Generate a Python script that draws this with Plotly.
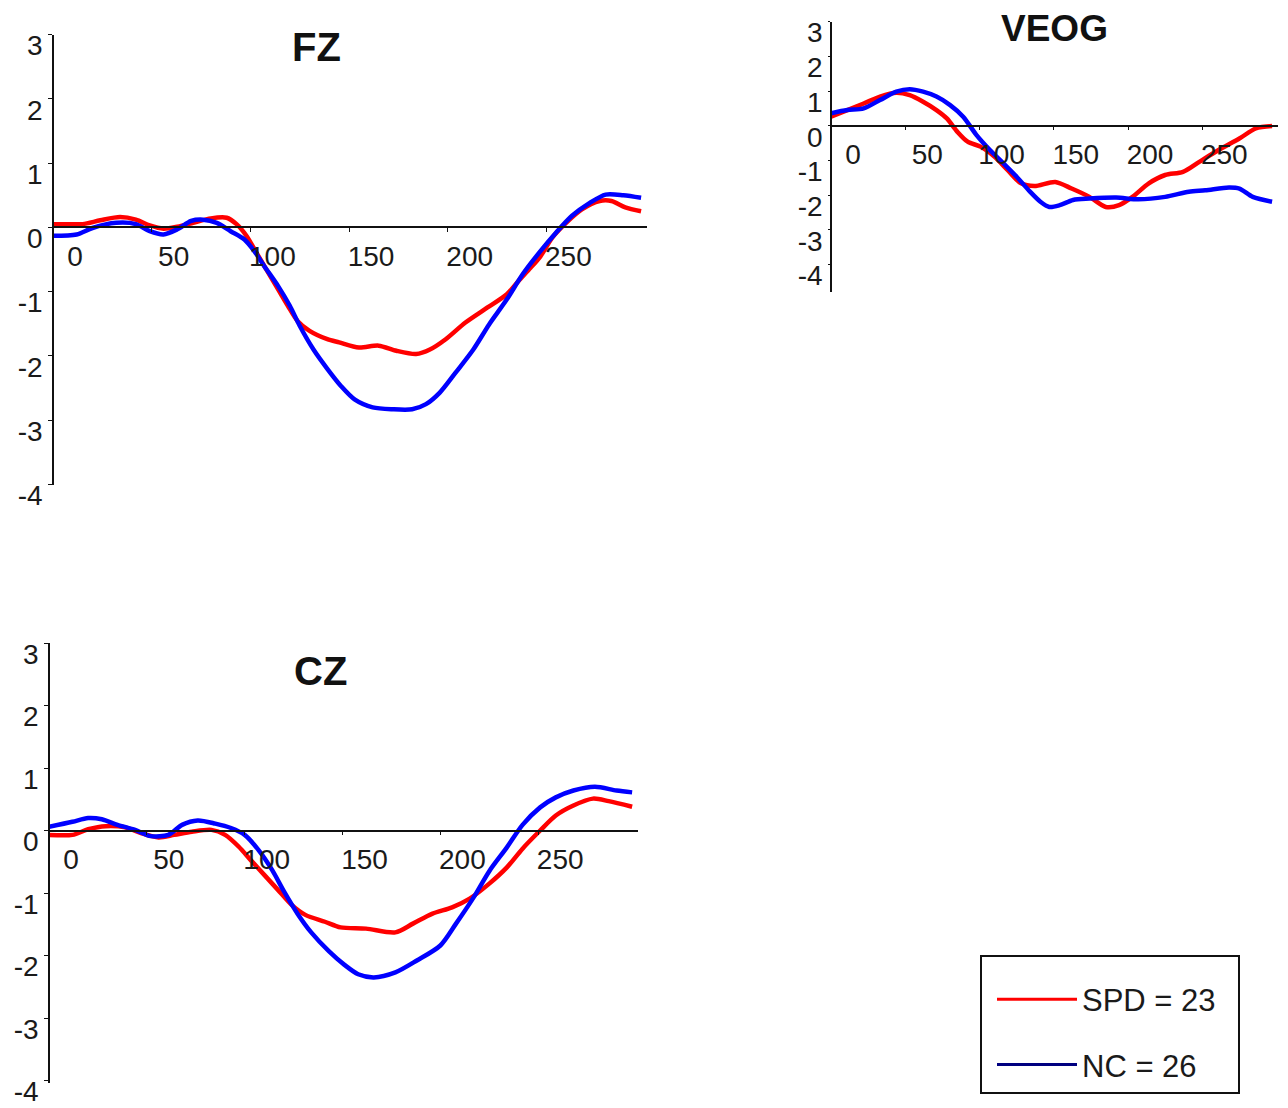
import plotly.graph_objects as go

# The page places the figure 8 px in from the top-left corner (browser body margin),
# so the figure is 8 px smaller and every reference pixel position is shifted by OFF.
OFF = 8
W, H = 1288 - OFF, 1108 - OFF

# ---------------- data (time in ms, amplitude in microvolts) ----------------
fz_spd_t = [0, 5, 15, 24, 34, 42, 49, 56, 63, 71, 80, 88, 93, 98, 103, 108, 114, 119, 124, 130,
            139, 145, 155, 165, 174, 184, 191, 199, 209, 220, 230, 236, 242, 247, 253, 260, 268,
            277, 283, 290, 298]
fz_spd_v = [0.05, 0.05, 0.05, 0.11, 0.16, 0.12, 0.03, -0.02, 0.01, 0.07, 0.14, 0.15, 0.05, -0.13,
            -0.39, -0.65, -0.96, -1.22, -1.46, -1.61, -1.74, -1.79, -1.87, -1.84, -1.92, -1.97,
            -1.90, -1.74, -1.48, -1.25, -1.04, -0.83, -0.63, -0.45, -0.16, 0.07, 0.28, 0.41, 0.41,
            0.31, 0.25]
fz_nc_t = [0, 12, 20, 32, 42, 49, 56, 63, 70, 76, 83, 90, 97, 102, 107, 114, 120, 125, 132, 139,
           146, 153, 162, 172, 182, 189, 196, 204, 213, 221, 230, 238, 247, 255, 263, 272, 280,
           289, 298]
fz_nc_v = [-0.13, -0.11, -0.01, 0.07, 0.05, -0.06, -0.11, -0.03, 0.10, 0.12, 0.07, -0.06, -0.19,
           -0.37, -0.60, -0.91, -1.22, -1.53, -1.90, -2.20, -2.47, -2.68, -2.80, -2.83, -2.83,
           -2.75, -2.57, -2.26, -1.90, -1.51, -1.12, -0.73, -0.37, -0.08, 0.18, 0.38, 0.51, 0.50,
           0.46]

veog_spd_t = [0, 11, 22, 33, 44, 53, 62, 71, 78, 85, 92, 101, 110, 119, 128, 137, 151, 162, 174,
              185, 194, 203, 214, 225, 237, 248, 261, 275, 286, 297]
veog_spd_v = [0.26, 0.45, 0.64, 0.84, 0.95, 0.88, 0.69, 0.45, 0.21, -0.17, -0.46, -0.61, -0.89,
              -1.28, -1.66, -1.74, -1.62, -1.81, -2.05, -2.34, -2.29, -2.05, -1.66, -1.42, -1.33,
              -1.04, -0.70, -0.37, -0.08, -0.01]
veog_nc_t = [0, 11, 22, 33, 44, 53, 62, 71, 80, 89, 98, 107, 116, 125, 134, 141, 147, 154, 163,
             174, 192, 207, 225, 241, 252, 268, 275, 284, 297]
veog_nc_v = [0.36, 0.45, 0.50, 0.74, 0.98, 1.05, 0.98, 0.84, 0.60, 0.26, -0.27, -0.70, -1.08,
             -1.47, -1.90, -2.19, -2.34, -2.29, -2.14, -2.10, -2.07, -2.12, -2.05, -1.90, -1.86,
             -1.78, -1.81, -2.05, -2.19]

cz_spd_t = [0, 12, 20, 29, 39, 47, 56, 64, 73, 83, 90, 97, 103, 110, 117, 124, 131, 141, 149,
            162, 177, 186, 196, 206, 215, 225, 234, 242, 251, 259, 268, 278, 286, 298]
cz_spd_v = [-0.07, -0.07, 0.02, 0.07, 0.05, -0.04, -0.11, -0.07, -0.02, 0.01, -0.07, -0.26,
            -0.47, -0.71, -0.95, -1.19, -1.35, -1.46, -1.55, -1.57, -1.63, -1.49, -1.33, -1.23,
            -1.09, -0.85, -0.59, -0.29, 0.0, 0.24, 0.40, 0.51, 0.47, 0.38]
cz_nc_t = [0, 12, 20, 27, 35, 44, 52, 61, 68, 76, 85, 93, 100, 107, 114, 120, 127, 134, 143, 151,
           158, 166, 177, 188, 200, 208, 217, 225, 234, 242, 251, 259, 268, 279, 290, 298]
cz_nc_v = [0.06, 0.14, 0.20, 0.18, 0.09, 0.01, -0.09, -0.07, 0.09, 0.16, 0.11, 0.04, -0.07,
           -0.31, -0.63, -0.97, -1.33, -1.63, -1.93, -2.15, -2.30, -2.35, -2.27, -2.08, -1.84,
           -1.49, -1.07, -0.65, -0.27, 0.09, 0.37, 0.53, 0.64, 0.70, 0.64, 0.61]

x_tickvals = [0, 50, 100, 150, 200, 250]
x_ticktext = ["0", "50", "100", "150", "200", "250"]
y_tickvals = [3, 2, 1, 0, -1, -2, -3, -4]
y_ticktext = ["3", "2", "1", "0", "-1", "-2", "-3", "-4"]

panel_titles = ["FZ", "VEOG", "CZ"]
group_names = ["SPD = 23", "NC = 26"]

RED = "#ff0000"
BLUE = "#0000ff"
NAVY = "#000080"
FONT = "Liberation Sans, Arial, sans-serif"
NB = "\u00a0"


def fx(px):
    return (px - OFF) / W


def fy(py):
    return 1 - (py - OFF) / H


# panel geometry in reference pixels
panels = [
    dict(px0=53, px1=647, py_top=34.5, py_bot=484.5, yr=[-4, 3], ytl=4),
    dict(px0=831, px1=1278, py_top=21.6, py_bot=292.3, yr=[-4.8, 3], ytl=2),
    dict(px0=49, px1=638, py_top=643, py_bot=1083, yr=[-4.04, 3], ytl=4),
]
series = [
    (fz_spd_t, fz_spd_v, fz_nc_t, fz_nc_v),
    (veog_spd_t, veog_spd_v, veog_nc_t, veog_nc_v),
    (cz_spd_t, cz_spd_v, cz_nc_t, cz_nc_v),
]

fig = go.Figure()
layout = dict(width=W, height=H, margin=dict(l=0, r=0, t=0, b=0, autoexpand=False),
              paper_bgcolor="white", plot_bgcolor="white",
              font=dict(family=FONT, color="#1a1a1a"), showlegend=True)

for i, (p, s) in enumerate(zip(panels, series)):
    k = "" if i == 0 else str(i + 1)
    xd = [fx(p["px0"]), fx(p["px1"])]
    yd = [fy(p["py_bot"]), fy(p["py_top"])]
    ymin, ymax = p["yr"]
    xpos = yd[0] + (0 - ymin) / (ymax - ymin) * (yd[1] - yd[0])
    layout["xaxis" + k] = dict(domain=xd, range=[0, 301], anchor="free", position=xpos,
                               showline=True, linecolor="#111", linewidth=1.5,
                               ticks="outside", ticklen=4, tickcolor="#111",
                               tickvals=x_tickvals, ticktext=x_ticktext,
                               tickfont=dict(size=28, family=FONT, color="#1a1a1a"),
                               ticklabelshift=22, showgrid=False, zeroline=False)
    layout["yaxis" + k] = dict(domain=yd, range=p["yr"], anchor="free", position=xd[0],
                               showline=True, linecolor="#111", linewidth=1.5,
                               ticks="outside", ticklen=p["ytl"], tickcolor="#111",
                               tickvals=y_tickvals, ticktext=y_ticktext,
                               tickfont=dict(size=28, family=FONT, color="#1a1a1a"),
                               ticklabelshift=11, showgrid=False, zeroline=False)
    xr = "x" + k
    yr = "y" + k
    fig.add_trace(go.Scatter(x=s[0], y=s[1], mode="lines", xaxis=xr, yaxis=yr,
                             line=dict(color=RED, width=4.5, shape="spline", smoothing=0.8),
                             showlegend=False, name=group_names[0]))
    fig.add_trace(go.Scatter(x=s[2], y=s[3], mode="lines", xaxis=xr, yaxis=yr,
                             line=dict(color=BLUE, width=4.5, shape="spline", smoothing=0.8),
                             showlegend=False, name=group_names[1]))

# legend entries
fig.add_trace(go.Scatter(x=[None], y=[None], mode="lines", name=group_names[0] + NB * 2,
                         line=dict(color=RED, width=3), legendgroup="a"))
fig.add_trace(go.Scatter(x=[None], y=[None], mode="lines", name=group_names[1] + NB * 2,
                         line=dict(color=NAVY, width=3), legendgroup="b"))

layout["legend"] = dict(x=fx(980), y=fy(955), xanchor="left", yanchor="top",
                        font=dict(size=31, family=FONT, color="#1a1a1a"),
                        bordercolor="#111", borderwidth=2, bgcolor="white",
                        tracegroupgap=22, traceorder="grouped", itemwidth=80,
                        indentation=10,
                        title=dict(text=NB, font=dict(size=12)))

title_pos = [(316.5, 47.5, 40), (1054.5, 28.5, 37), (320, 671, 40)]
ann = []
for t, (cx, cy, fs) in zip(panel_titles, title_pos):
    ann.append(dict(text="<b>" + t + "</b>", x=fx(cx), y=fy(cy), xref="paper", yref="paper",
                    showarrow=False, xanchor="center", yanchor="middle",
                    font=dict(size=fs, family=FONT, color="#111")))
layout["annotations"] = ann

fig.update_layout(**layout)
fig.write_html("out.html")
